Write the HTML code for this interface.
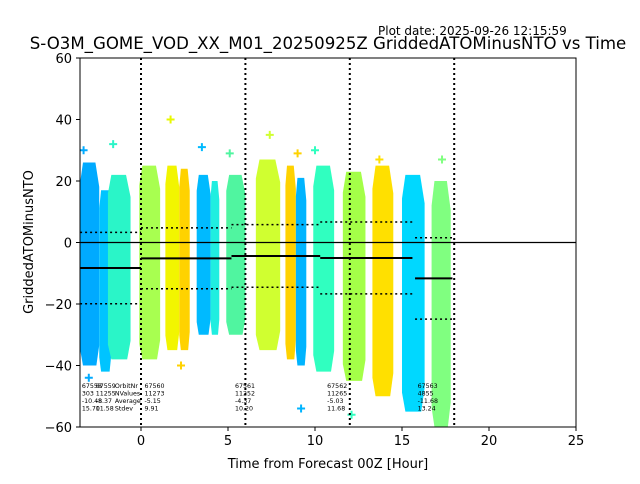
<!DOCTYPE html>
<html><head><meta charset="utf-8"><style>
body{margin:0;background:#fff;font-family:"DejaVu Sans","Liberation Sans",sans-serif}
</style></head><body>
<svg id="chart" width="640" height="480" xmlns="http://www.w3.org/2000/svg" font-family="DejaVu Sans, Liberation Sans, sans-serif">
<rect width="640" height="480" fill="#fff"/>
<text x="378" y="35" font-size="12">Plot date: 2025-09-26 12:15:59</text>
<text x="328" y="49" font-size="16.6" text-anchor="middle">S-O3M_GOME_VOD_XX_M01_20250925Z GriddedATOMinusNTO vs Time</text>
<g id="marks"></g>
<rect x="80" y="58" width="496" height="369" fill="none" stroke="#000" stroke-width="1"/>
<text x="328" y="468" font-size="13" text-anchor="middle">Time from Forecast 00Z [Hour]</text>
<text x="33" y="242" font-size="13" text-anchor="middle" transform="rotate(-90 33 242)">GriddedATOMinusNTO</text>
</svg>
<script>
const xTicks=[0,5,10,15,20,25];
const yTicks=[-60,-40,-20,0,20,40,60];
const bandStart=[-3.5,-2.4,-1.9,-0.1,1.4,2.2,3.2,4.0,4.9,6.6,8.3,8.9,9.9,11.6,13.3,15.0,16.7];
const bandEnd=[-2.4,-1.7,-0.6,1.1,2.2,2.8,4.0,4.5,6.0,8.0,8.9,9.5,11.1,12.9,14.5,16.3,17.8];
const bandTop=[26,17,22,25,25,24,22,20,22,27,25,21,25,23,25,22,20];
const bandBottom=[-40,-42,-38,-38,-35,-35,-30,-30,-30,-35,-38,-40,-42,-45,-50,-55,-60];
const bandColor=["#00aaff","#00c4ff","#2af5c8","#a8ff50","#f2f500","#ffd200","#00baff","#20eee0","#50f5a0","#d0ff30","#ffd200","#00b4ff","#30ffc0","#a4ff48","#ffe000","#00d8ff","#80ff80"];
const outX=[-3.3,-1.6,1.7,3.5,5.1,7.4,9.0,10.0,13.7,15.8,17.3,-3.0,2.3,9.2,12.1];
const outY=[30,32,40,31,29,35,29,30,27,-38,27,-44,-40,-54,-56];
const outC=["#00aaff","#2af5c8","#e8f800","#00baff","#50f5a0","#d0ff30","#ffd200","#30ffc0","#ffe000","#00d8ff","#80ff80","#00aaff","#ffd200","#00b4ff","#30ffc0"];
const segStart=[-3.5,0,5.2,10.3,15.75];
const segEnd=[0,5.2,10.3,15.6,17.9];
const segMean=[-8.3,-5.15,-4.37,-5.03,-11.68];
const segStd=[11.6,9.91,10.2,11.68,13.24];
const vLines=[0,6,12,18];
const annX=[-3.4,-2.6,-1.5,0.2,5.4,10.7,15.9];
const annL1=["67558","67559","OrbitNr","67560","67561","67562","67563"];
const annL2=["303","11255","NValues","11273","11252","11265","4855"];
const annL3=["-10.48","-8.37","Average","-5.15","-4.37","-5.03","-11.68"];
const annL4=["15.70","11.58","Stdev","9.91","10.20","11.68","13.24"];
const X=h=>141+(h*17.4);
const Y=v=>242.5-v*3.075;
const NS="http://www.w3.org/2000/svg";
const svg=document.getElementById('chart');
const g=document.getElementById('marks');
function mk(t,a,p){const e=document.createElementNS(NS,t);for(const k in a)e.setAttribute(k,a[k]);(p||g).appendChild(e);return e;}
for(let i=0;i<bandStart.length;i++){
 const x0=X(bandStart[i]),x1=X(bandEnd[i]),w=x1-x0,yt=Y(bandTop[i]),yb=Y(bandBottom[i]),h=yb-yt;
 const pts=[[x0+w*0.15,yt],[x1-w*0.2,yt],[x1,yt+h*0.12],[x1,yb-h*0.1],[x1-w*0.15,yb],[x0+w*0.15,yb],[x0,yb-h*0.08],[x0,yt+h*0.1]];
 const r=mk('polygon',{points:pts.map(p=>p.join(',')).join(' '),fill:bandColor[i]});
 
 
}
for(let i=0;i<outX.length;i++){
 const p=mk('path',{d:`M${X(outX[i])-4} ${Y(outY[i])}h8M${X(outX[i])} ${Y(outY[i])-4}v8`,stroke:outC[i],'stroke-width':2});
 
 
}
const z=mk('line',{x1:80,x2:576,y1:Y(0),y2:Y(0),stroke:'#000','stroke-width':1.2});


for(let i=0;i<segStart.length;i++){
 const m=mk('line',{x1:X(segStart[i]),x2:X(segEnd[i]),y1:Y(segMean[i]),y2:Y(segMean[i]),stroke:'#000','stroke-width':2});
 
 
 for(const s of [1,-1]){
  const d=mk('line',{x1:X(segStart[i]),x2:X(segEnd[i]),y1:Y(segMean[i]+s*segStd[i]),y2:Y(segMean[i]+s*segStd[i]),stroke:'#000','stroke-width':1.5,'stroke-dasharray':'2,3'});
  
  
 }
}
for(const v of vLines){
 const l=mk('line',{x1:X(v),x2:X(v),y1:58,y2:427,stroke:'#000','stroke-width':2,'stroke-dasharray':'2,3'});
 
 
}
for(let i=0;i<annX.length;i++){
 const rows=[annL1[i],annL2[i],annL3[i],annL4[i]];
 for(let j=0;j<4;j++){
  const t=mk('text',{x:X(annX[i]),y:388+j*7.5,'font-size':6.3});
  t.textContent=rows[j];
  
  
 }
}
for(const v of xTicks){
 const l=mk('line',{x1:X(v),x2:X(v),y1:427,y2:431,stroke:'#000'},svg);
 
 
 const t=mk('text',{x:X(v),y:445,'font-size':13,'text-anchor':'middle'},svg);
 t.textContent=v;
 
 
}
for(const v of yTicks){
 const l=mk('line',{x1:76,x2:80,y1:Y(v),y2:Y(v),stroke:'#000'},svg);
 
 
 const t=mk('text',{x:72,y:Y(v)+5,'font-size':13,'text-anchor':'end'},svg);
 t.textContent=v<0?'\u2212'+(-v):v;
 
 
}
</script>
</body></html>
